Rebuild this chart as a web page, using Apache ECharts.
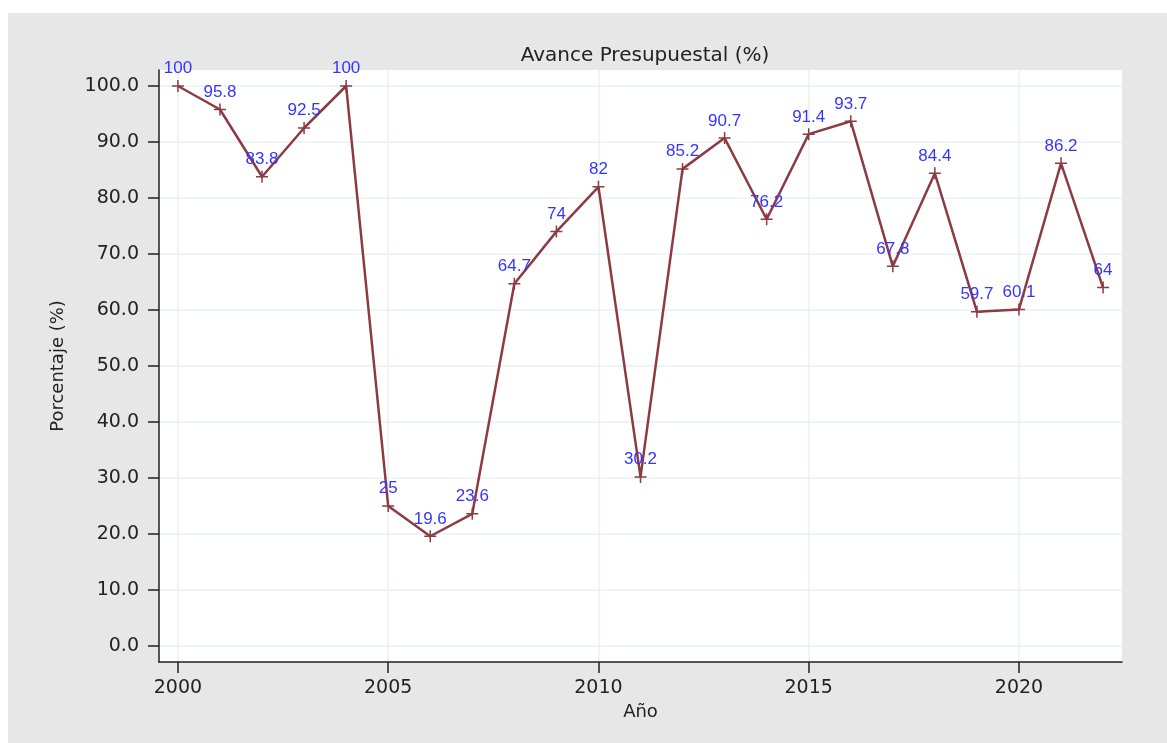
<!DOCTYPE html>
<html>
<head>
<meta charset="utf-8">
<script src="https://cdn.jsdelivr.net/npm/echarts@6/dist/echarts.min.js"></script>
<style>
  html, body { margin: 0; padding: 0; background: #fff; }
  #chart {
    position: absolute;
    left: 8px;
    top: 13px;
    width: 1159px;
    height: 730px;
    background: #e7e7e7;
    border-top: 1px solid #e2eaee;
    border-left: 1px solid #e2eaee;
    box-sizing: border-box;
  }
</style>
</head>
<body>
<div id="chart"></div>
<script>
const years = [2000, 2001, 2002, 2003, 2004, 2005, 2006, 2007, 2008, 2009, 2010, 2011,
  2012, 2013, 2014, 2015, 2016, 2017, 2018, 2019, 2020, 2021, 2022];
const avance = [100, 95.8, 83.8, 92.5, 100, 25, 19.6, 23.6, 64.7, 74, 82, 30.2,
  85.2, 90.7, 76.2, 91.4, 93.7, 67.8, 84.4, 59.7, 60.1, 86.2, 64];
const xTicks = [2000, 2005, 2010, 2015, 2020];
const yTicks = [0, 10, 20, 30, 40, 50, 60, 70, 80, 90, 100];

const lineColor = "#8c3b42";
const axisColor = "#222";
const font = "'DejaVu Sans', Verdana, sans-serif";
const labelFont = "'Liberation Sans', Arial, sans-serif";

const chart = echarts.init(document.getElementById("chart"), null, { renderer: "canvas" });

const option = {
  animation: false,
  title: {
    text: "Avance Presupuestal (%)",
    left: 631,
    top: 27,
    textAlign: "center",
    textStyle: { color: "#222", fontSize: 20, fontWeight: "normal", fontFamily: font },
  },
  grid: {
    left: 150,
    top: 56,
    width: 963,
    height: 592,
    show: true,
    backgroundColor: "#fff",
    borderWidth: 0,
  },
  xAxis: {
    type: "value",
    min: 1999.55,
    max: 2022.45,
    splitNumber: 5,
    name: "Año",
    nameLocation: "middle",
    nameGap: 41,
    nameTextStyle: { color: "#222", fontSize: 18, fontFamily: font },
    axisLine: { show: true, onZero: false, lineStyle: { color: axisColor, width: 1.5 } },
    axisTick: { show: true, customValues: xTicks, length: 11, lineStyle: { color: axisColor, width: 1.5 } },
    axisLabel: {
      customValues: xTicks,
      color: "#222",
      fontSize: 19,
      fontFamily: font,
      margin: 17,
      formatter: (v) => String(v),
    },
    splitLine: { show: true, lineStyle: { color: "#eaf1f3", width: 1.5 } },
  },
  yAxis: {
    type: "value",
    min: -2.857,
    max: 102.857,
    splitNumber: 10,
    name: "Porcentaje (%)",
    nameLocation: "middle",
    nameGap: 92,
    nameTextStyle: { color: "#222", fontSize: 18, fontFamily: font },
    axisLine: { show: true, onZero: false, lineStyle: { color: axisColor, width: 1.5 } },
    axisTick: { show: true, customValues: yTicks, length: 11, lineStyle: { color: axisColor, width: 1.5 } },
    axisLabel: {
      customValues: yTicks,
      color: "#222",
      fontSize: 19,
      fontFamily: font,
      margin: 20,
      formatter: (v) => v.toFixed(1),
    },
    splitLine: { show: true, lineStyle: { color: "#eaf1f3", width: 1.5 } },
  },
  series: [
    {
      type: "line",
      data: years.map((y, i) => [y, avance[i]]),
      symbol: "path://M5,0L5,10M0,5L10,5",
      symbolSize: 12,
      itemStyle: { color: lineColor, borderColor: lineColor, borderWidth: 1.5 },
      lineStyle: { color: lineColor, width: 2.5 },
      label: {
        show: true,
        position: "top",
        distance: 2,
        color: "#3535ff",
        fontSize: 17,
        fontFamily: labelFont,
        formatter: (p) => String(p.value[1]),
      },
    },
  ],
};

chart.setOption(option);
</script>
</body>
</html>
